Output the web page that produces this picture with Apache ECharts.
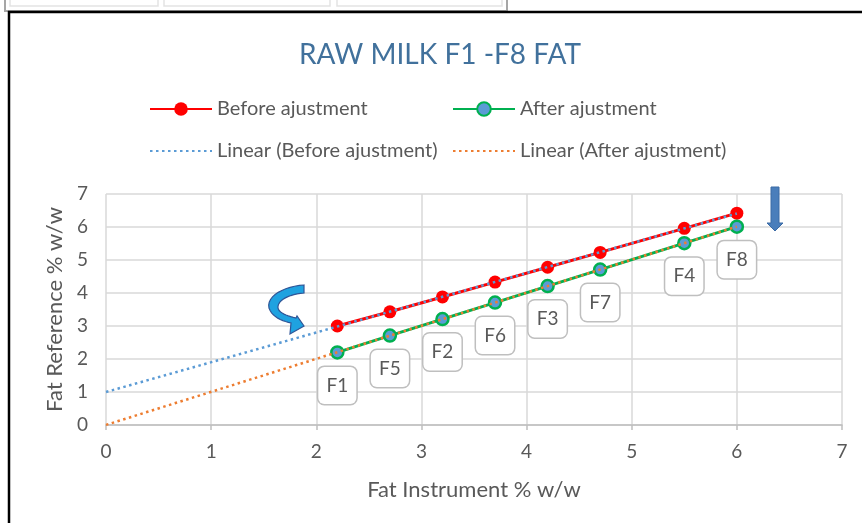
<!DOCTYPE html>
<html>
<head>
<meta charset="utf-8">
<script src="https://cdn.jsdelivr.net/npm/echarts@6/dist/echarts.min.js"></script>
<style>
  html, body { margin: 0; padding: 0; background: #ffffff; }
  #chart { width: 862px; height: 523px; }
</style>
</head>
<body>
<div id="chart"></div>
<script>
// ---- data ----
const fatInstrument = [2.2, 2.7, 3.2, 3.7, 4.2, 4.7, 5.5, 6.0];
const beforeAdjustment = [3.0, 3.43, 3.88, 4.33, 4.78, 5.23, 5.96, 6.42];
const afterAdjustment = [2.2, 2.71, 3.21, 3.71, 4.21, 4.71, 5.51, 6.01];
const sampleLabels = ['F1', 'F5', 'F2', 'F6', 'F3', 'F7', 'F4', 'F8'];
const trendRange = [0, 6];
const axisTicks = [0, 1, 2, 3, 4, 5, 6, 7];

const seriesNames = ['Before ajustment', 'After ajustment', 'Linear (Before ajustment)', 'Linear (After ajustment)'];

// least-squares linear trendline (as the spreadsheet does)
function linearFit(xs, ys) {
  const n = xs.length;
  let sx = 0, sy = 0, sxx = 0, sxy = 0;
  for (let i = 0; i < n; i++) { sx += xs[i]; sy += ys[i]; sxx += xs[i] * xs[i]; sxy += xs[i] * ys[i]; }
  const slope = (n * sxy - sx * sy) / (n * sxx - sx * sx);
  const intercept = (sy - slope * sx) / n;
  return trendRange.map(x => [x, intercept + slope * x]);
}

const pairs = (xs, ys) => xs.map((x, i) => [x, ys[i]]);

// sample a cubic bezier into points (for the decorative curved arrow)
function bez(p0, p1, p2, p3, n) {
  const pts = [];
  for (let i = 0; i <= n; i++) {
    const t = i / n, u = 1 - t;
    pts.push([
      u * u * u * p0[0] + 3 * u * u * t * p1[0] + 3 * u * t * t * p2[0] + t * t * t * p3[0],
      u * u * u * p0[1] + 3 * u * u * t * p1[1] + 3 * u * t * t * p2[1] + t * t * t * p3[1]
    ]);
  }
  return pts;
}
const arrowPts = [].concat(
  bez([304, 285], [285, 286], [266, 296], [269, 308], 12),
  bez([269, 308], [272, 317], [282, 321], [291, 323], 10),
  [[290, 334], [304, 326], [297, 316], [296, 318]],
  bez([296, 318], [287, 316], [279, 313], [278, 308], 10),
  bez([278, 308], [277, 300], [290, 294], [304, 293], 12)
);

const FONT = 'Lato';
const GREY = '#595959';

const chart = echarts.init(document.getElementById('chart'), null, { renderer: 'canvas' });

const legendBase = {
  itemWidth: 62,
  itemHeight: 17,
  itemGap: 6,
  padding: 0,
  textStyle: { color: GREY, fontSize: 20, fontFamily: FONT },
  selectedMode: false
};
const noSymbol = { itemStyle: { color: 'transparent', borderColor: 'transparent', borderWidth: 0 } };

chart.setOption({
  backgroundColor: '#ffffff',
  animation: false,
  title: {
    text: 'RAW MILK F1 -F8 FAT',
    left: 294,
    top: 36,
    textStyle: { color: '#41719c', fontSize: 28, fontWeight: 'normal', fontFamily: FONT }
  },
  legend: [
    Object.assign({}, legendBase, { data: [seriesNames[0]], left: 149, top: 99 }),
    Object.assign({}, legendBase, { data: [seriesNames[1]], left: 452, top: 99 }),
    Object.assign({}, legendBase, noSymbol, { data: [seriesNames[2]], left: 149, top: 141 }),
    Object.assign({}, legendBase, noSymbol, { data: [seriesNames[3]], left: 452, top: 141 })
  ],
  grid: { left: 106, right: 20, top: 194, bottom: 98, containLabel: false },
  xAxis: {
    type: 'value',
    min: axisTicks[0],
    max: axisTicks[axisTicks.length - 1],
    interval: 1,
    name: 'Fat Instrument % w/w',
    nameLocation: 'middle',
    nameGap: 54,
    nameTextStyle: { color: GREY, fontSize: 22, fontFamily: FONT },
    axisLine: { show: true, lineStyle: { color: '#bfbfbf', width: 1.5 } },
    axisTick: { show: true, length: 5, lineStyle: { color: '#bfbfbf', width: 1.5 } },
    axisLabel: { color: GREY, fontSize: 19, fontFamily: FONT, margin: 17 },
    splitLine: { show: true, lineStyle: { color: '#d9d9d9', width: 1.5 } }
  },
  yAxis: {
    type: 'value',
    min: axisTicks[0],
    max: axisTicks[axisTicks.length - 1],
    interval: 1,
    name: 'Fat Reference % w/w',
    nameLocation: 'middle',
    nameGap: 36,
    nameRotate: 90,
    nameTextStyle: { color: GREY, fontSize: 22, fontFamily: FONT },
    axisLine: { show: false },
    axisTick: { show: false },
    axisLabel: { color: GREY, fontSize: 19, fontFamily: FONT, margin: 18 },
    splitLine: { show: true, lineStyle: { color: '#d9d9d9', width: 1.5 } }
  },
  series: [
    {
      name: seriesNames[0],
      type: 'line',
      data: pairs(fatInstrument, beforeAdjustment),
      symbol: 'circle',
      symbolSize: 13,
      itemStyle: { color: '#ff0000' },
      lineStyle: { color: '#ff0000', width: 3 },
      z: 2
    },
    {
      name: seriesNames[1],
      type: 'line',
      data: pairs(fatInstrument, afterAdjustment),
      symbol: 'circle',
      symbolSize: 12,
      itemStyle: { color: '#5b9bd5', borderColor: '#00b050', borderWidth: 2.5 },
      lineStyle: { color: '#00b050', width: 3 },
      label: {
        show: true,
        position: 'inside',
        offset: [0, 33],
        formatter: p => sampleLabels[p.dataIndex],
        color: GREY,
        fontSize: 19,
        fontFamily: FONT,
        backgroundColor: '#ffffff',
        borderColor: '#bfbfbf',
        borderWidth: 1.5,
        borderRadius: 6,
        padding: [9, 8, 8, 8],
        width: 22,
        height: 20,
        lineHeight: 20,
        align: 'center',
        verticalAlign: 'middle'
      },
      z: 2
    },
    {
      name: seriesNames[2],
      type: 'line',
      data: linearFit(fatInstrument, beforeAdjustment),
      symbol: 'none',
      lineStyle: { color: '#5b9bd5', width: 2.5, type: [2.5, 3.5] },
      itemStyle: { color: '#5b9bd5' },
      z: 3
    },
    {
      name: seriesNames[3],
      type: 'line',
      data: linearFit(fatInstrument, afterAdjustment),
      symbol: 'none',
      lineStyle: { color: '#ed7d31', width: 2.5, type: [2.5, 3.5] },
      itemStyle: { color: '#ed7d31' },
      z: 3
    }
  ],
  graphic: [
    { type: 'rect', shape: { x: 5, y: -4, width: 502, height: 15 }, style: { fill: '#ffffff', stroke: '#a6a6a6', lineWidth: 2 }, z: 10 },
    { type: 'rect', shape: { x: 10, y: -4, width: 148, height: 10 }, style: { fill: '#ffffff', stroke: '#e3e3e3', lineWidth: 1.5 }, z: 11 },
    { type: 'rect', shape: { x: 164, y: -4, width: 166, height: 10 }, style: { fill: '#ffffff', stroke: '#e3e3e3', lineWidth: 1.5 }, z: 11 },
    { type: 'rect', shape: { x: 337, y: -4, width: 165, height: 10 }, style: { fill: '#ffffff', stroke: '#e3e3e3', lineWidth: 1.5 }, z: 11 },
    { type: 'line', shape: { x1: 8, y1: 12, x2: 862, y2: 12 }, style: { stroke: '#000000', lineWidth: 2.5 }, z: 12 },
    { type: 'line', shape: { x1: 9, y1: 11, x2: 9, y2: 523 }, style: { stroke: '#000000', lineWidth: 2.5 }, z: 12 },
    {
      type: 'polygon',
      shape: { points: arrowPts },
      style: { fill: '#1fa2e0', stroke: '#2f5597', lineWidth: 1.2 },
      z: 20
    },
    {
      type: 'polygon',
      shape: { points: [[771, 187], [779, 187], [779, 223], [783, 223], [775, 231], [767, 223], [771, 223]] },
      style: { fill: '#4a7ebb', stroke: '#3a6aa5', lineWidth: 1 },
      z: 20
    }
  ]
});
</script>
</body>
</html>
